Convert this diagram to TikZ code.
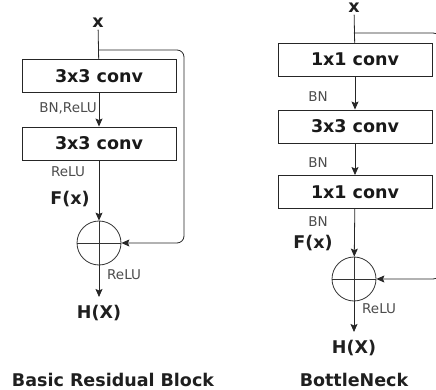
\documentclass[tikz,border=0pt]{standalone}
\usepackage{fontspec}
\setmainfont{DejaVu Sans}
\usetikzlibrary{arrows.meta,positioning}

\begin{document}
\begin{tikzpicture}[x=1pt,y=-1pt]
\tikzset{
  convbox/.style={rectangle,draw=black!85,line width=0.9pt,minimum width=154pt,minimum height=33pt,inner sep=0pt,font=\fontsize{17.5}{20}\selectfont\bfseries,text=black!90},
  addnode/.style={circle,draw=black!80,line width=0.8pt,minimum size=44pt,inner sep=0pt,
    path picture={\draw[black!80,line width=0.8pt] (path picture bounding box.north) -- (path picture bounding box.south)
      (path picture bounding box.west) -- (path picture bounding box.east);}},
  biglabel/.style={inner sep=2pt,font=\fontsize{17.5}{20}\selectfont\bfseries,text=black!88},
  smalllabel/.style={inner sep=1pt,font=\fontsize{13.5}{16}\selectfont,text=black!70},
  graphedge/.style={draw=black!85,line width=0.8pt,line cap=round,line join=round},
  directed/.style={graphedge,-{Stealth[length=8pt,width=7pt,inset=1.5pt]}},
  undirected/.style={graphedge}
}
\useasboundingbox (0,0) rectangle (436,390);
\clip (0,0) rectangle (436,390);
% basic residual block
\node[biglabel] (n_xL) at (98,23) {x};
\node[convbox] (n_c1L) at (99,76) {3x3 conv};
\node[convbox] (n_c2L) at (99,143.5) {3x3 conv};
\node[addnode] (n_addL) at (99,243) {};
\node[biglabel,anchor=north,inner ysep=8pt] (n_hL) at (99,297) {H(X)};
\node[smalllabel,anchor=east] (n_bnL) at (98,108) {BN,ReLU};
\node[smalllabel] (n_reluL) at (68,172) {ReLU};
\node[biglabel] (n_fL) at (70,199) {F(x)};
\node[smalllabel,anchor=west] (n_relu2L) at (106,275) {ReLU};
\node[biglabel] (n_titleL) at (113,380) {Basic Residual Block};
\coordinate (n_splitL) at (99,50);
\coordinate (n_skipL) at (184,243);
\draw[undirected] (n_xL) -- (n_c1L);
\draw[directed] (n_c1L) -- (n_c2L);
\draw[directed] (n_c2L) -- (n_addL);
\draw[directed] (n_addL) -- (n_hL);
\draw[directed,rounded corners=7pt] (n_splitL) -| (n_skipL) -- (n_addL.east);
% bottleneck
\node[biglabel] (n_xR) at (354,8) {x};
\node[convbox] (n_c1R) at (355,59.5) {1x1 conv};
\node[convbox] (n_c2R) at (355,126.5) {3x3 conv};
\node[convbox] (n_c3R) at (355,192) {1x1 conv};
\node[addnode] (n_addR) at (354,279) {};
\node[biglabel,anchor=north,inner ysep=8pt] (n_hR) at (354,332) {H(X)};
\node[smalllabel] (n_bn1R) at (318,97) {BN};
\node[smalllabel] (n_bn2R) at (318,163) {BN};
\node[smalllabel] (n_bn3R) at (318,222) {BN};
\node[biglabel] (n_fR) at (313,243) {F(x)};
\node[smalllabel,anchor=west] (n_reluR) at (361,309) {ReLU};
\node[biglabel] (n_titleR) at (354,380) {BottleNeck};
\coordinate (n_splitR) at (354,33);
\coordinate (n_skipR) at (441,279);
\draw[undirected] (n_xR) -- (n_c1R);
\draw[directed] (n_c1R) -- (n_c2R);
\draw[directed] (n_c2R) -- (n_c3R);
\draw[directed] (n_c3R) -- (n_addR);
\draw[directed] (n_addR) -- (n_hR);
\draw[directed,rounded corners=8pt] (n_splitR) -| (n_skipR) -- (n_addR.east);
\end{tikzpicture}
\end{document}
